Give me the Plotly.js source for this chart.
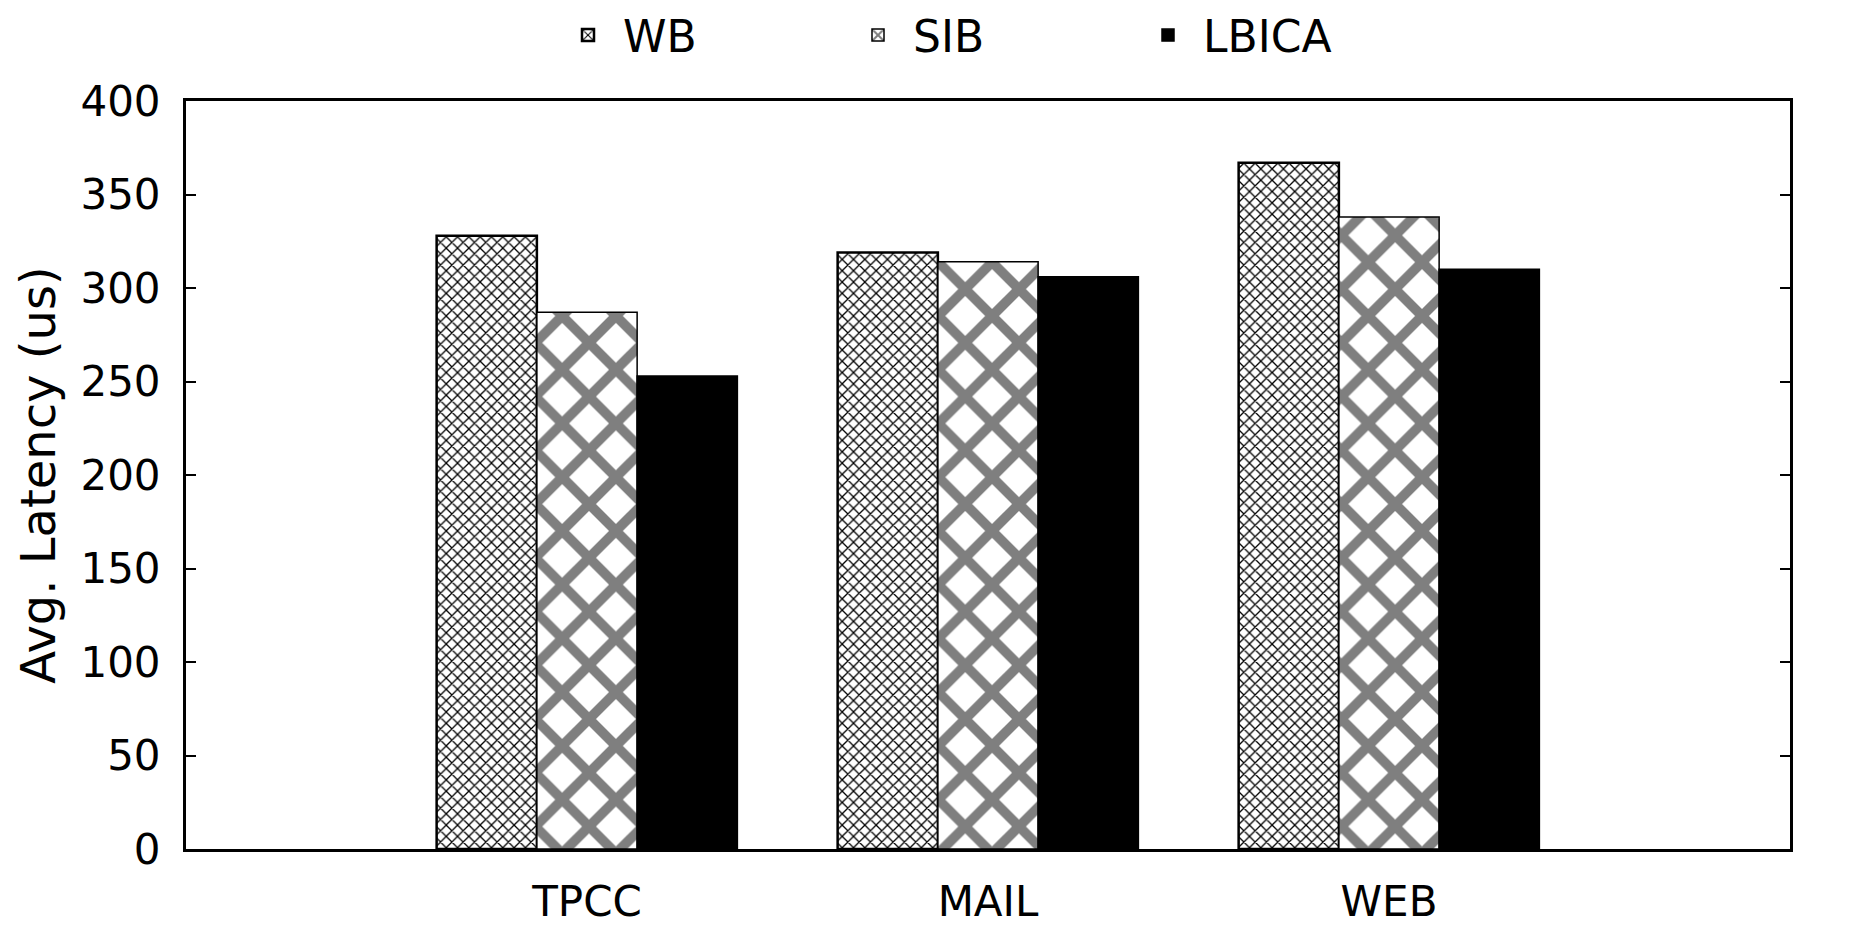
<!DOCTYPE html>
<html>
<head>
<meta charset="utf-8">
<script src="https://cdn.plot.ly/plotly-3.0.1.min.js"></script>
<style>html,body{margin:0;padding:0;background:#fff;}#chart{width:1875px;height:944px;}</style>
</head>
<body>
<div id="chart"></div>
<script>
const categories = ["TPCC", "MAIL", "WEB"];
const wbValues = [328, 319, 367];
const sibValues = [287, 314, 338];
const lbicaValues = [253, 306, 310];
const yTicks = [0, 50, 100, 150, 200, 250, 300, 350, 400];

const font = "DejaVu Sans, Verdana, sans-serif";

const traces = [
  {
    type: "bar", name: "WB", x: categories, y: wbValues,
    marker: {color: "#ffffff", line: {color: "#000", width: 2.5},
      pattern: {shape: "x", size: 8, solidity: 0.3, fgcolor: "#000", bgcolor: "#fff"}}
  },
  {
    type: "bar", name: "SIB", x: categories, y: sibValues,
    marker: {color: "#ffffff", line: {color: "#000", width: 1.5},
      pattern: {shape: "x", size: 38, solidity: 0.45, fgcolor: "#000", fgopacity: 0.5, bgcolor: "#fff"}}
  },
  {
    type: "bar", name: "LBICA", x: categories, y: lbicaValues,
    marker: {color: "#000000", line: {color: "#000", width: 1.5}}
  }
];

const layout = {
  width: 1875, height: 944,
  paper_bgcolor: "#fff", plot_bgcolor: "#fff",
  margin: {l: 186, r: 85, t: 101, b: 95},
  barmode: "group", bargap: 0.25, bargroupgap: 0,
  font: {family: font, size: 42, color: "#000"},
  showlegend: true,
  legend: {orientation: "h", x: 0.5, xanchor: "center", y: 1.0, yref: "container", yanchor: "top",
    font: {family: font, size: 44, color: "#000"}, traceorder: "normal",
    itemwidth: 60, entrywidth: 215},
  xaxis: {
    type: "category", range: [-1, 3], tickvals: categories, ticktext: categories,
    showline: true, linecolor: "#000", linewidth: 3, mirror: true,
    ticks: "", showgrid: false, zeroline: false, ticklabelstandoff: 14,
    tickfont: {family: font, size: 42, color: "#000"}
  },
  yaxis: {
    range: [0, 400], tickvals: yTicks, ticktext: yTicks.map(String),
    showline: true, linecolor: "#000", linewidth: 3, mirror: "ticks",
    ticks: "inside", ticklen: 10, tickwidth: 2, tickcolor: "#000",
    showgrid: false, zeroline: false, ticklabelstandoff: 14,
    tickfont: {family: font, size: 42, color: "#000"},
    title: {text: "Avg. Latency (us)", font: {family: font, size: 48, color: "#000"}, standoff: 10}
  }
};

Plotly.newPlot("chart", traces, layout, {displayModeBar: false, staticPlot: true});
</script>
</body>
</html>
